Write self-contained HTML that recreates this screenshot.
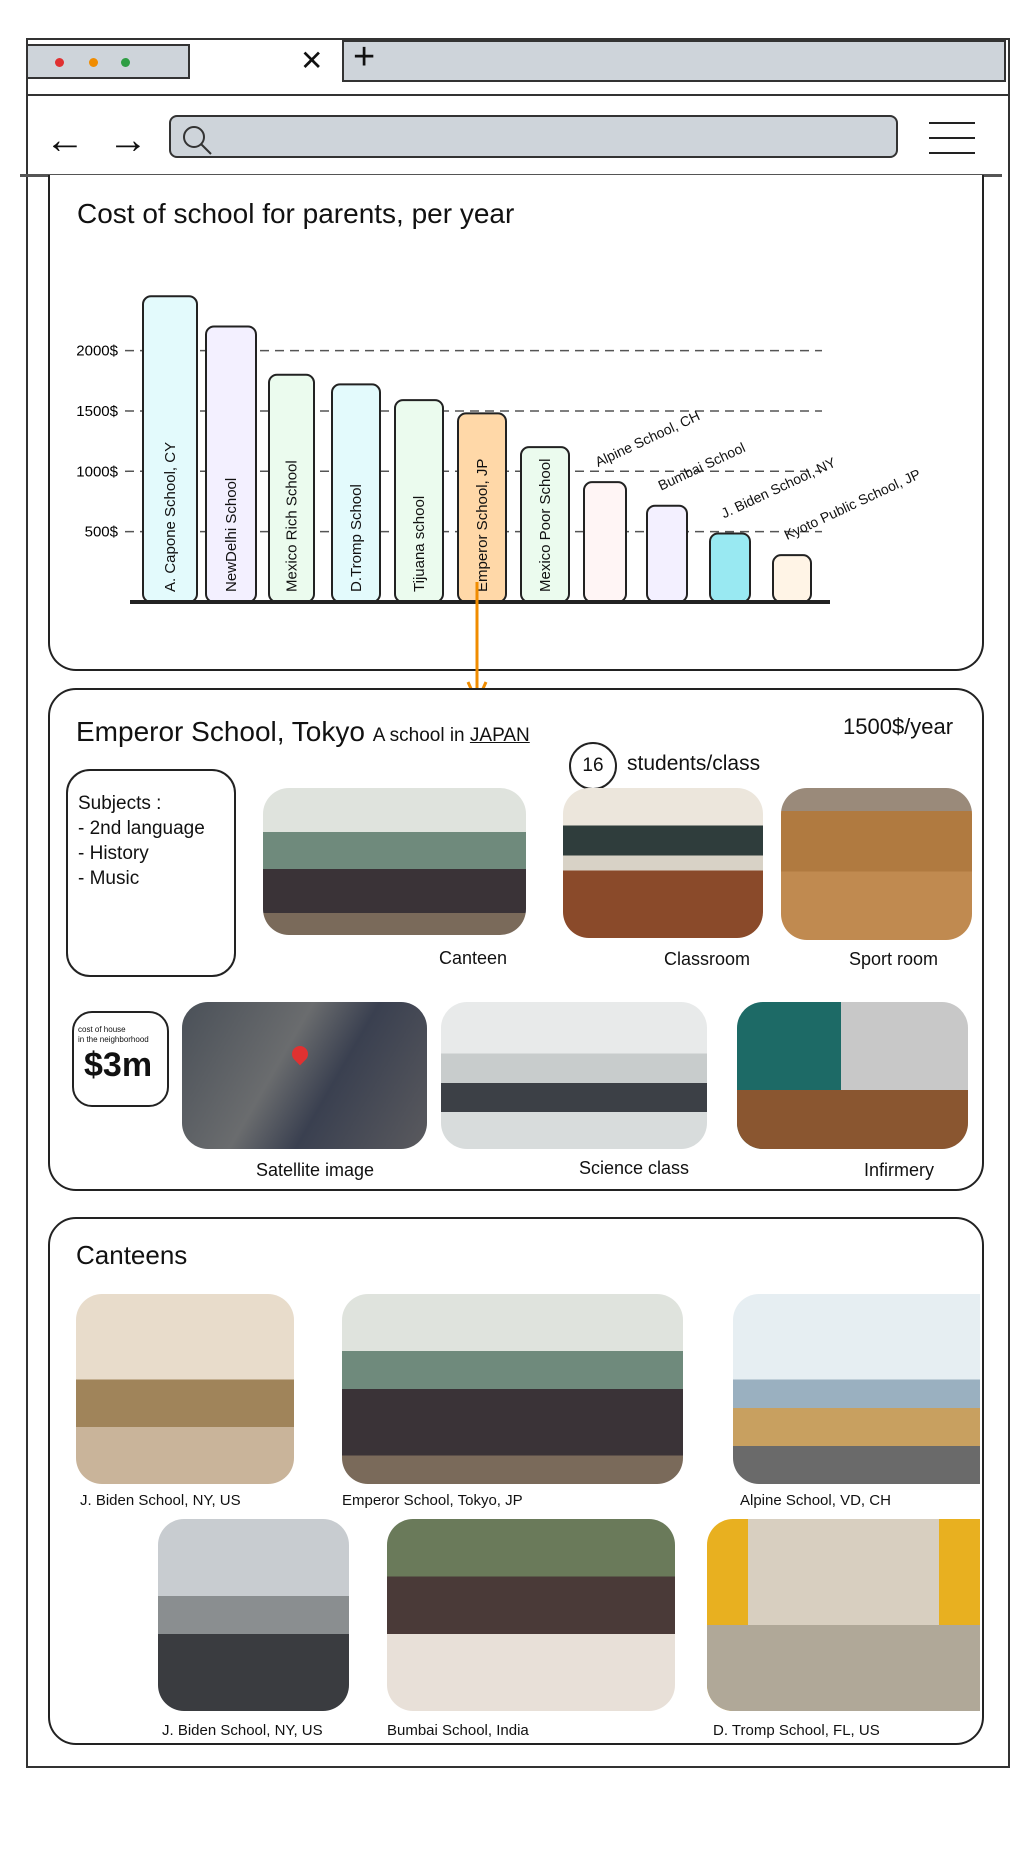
<!DOCTYPE html>
<html><head><meta charset="utf-8">
<style>
*{box-sizing:border-box;margin:0;padding:0}
body{width:1035px;height:1849px;background:#fff;position:relative;overflow:hidden;font-family:"Liberation Sans",sans-serif;color:#111}
.a{position:absolute}
.panel{position:absolute;border:2px solid #222;border-radius:28px;background:#fff}
.img{position:absolute;border-radius:26px;overflow:hidden}
.lbl{position:absolute;font-size:18px;white-space:nowrap}
.cl{position:absolute;font-size:15px;white-space:nowrap}
</style></head><body>
<div class="a" style="left:26px;top:38px;width:984px;height:1730px;border:2px solid #333"></div>
<div class="a" style="left:26px;top:38px;width:984px;height:58px;border-bottom:2px solid #333"></div>
<div class="a" style="left:26px;top:44px;width:164px;height:35px;background:#ced4da;border:2px solid #333"></div>
<div class="a" style="left:55px;top:58px;width:9px;height:9px;border-radius:50%;background:#e03131"></div>
<div class="a" style="left:89px;top:58px;width:9px;height:9px;border-radius:50%;background:#f08c00"></div>
<div class="a" style="left:121px;top:58px;width:9px;height:9px;border-radius:50%;background:#2f9e44"></div>
<div class="a" style="left:300px;top:44px;font-size:28px">✕</div>
<div class="a" style="left:342px;top:40px;width:664px;height:42px;background:#ced4da;border:2px solid #333"></div>
<div class="a" style="left:353px;top:36px;font-size:38px;font-weight:300">+</div>
<div class="a" style="left:45px;top:118px;font-size:40px">←</div>
<div class="a" style="left:108px;top:118px;font-size:40px">→</div>
<div class="a" style="left:169px;top:115px;width:729px;height:43px;background:#ced4da;border:2px solid #333;border-radius:8px"></div>
<svg class="a" style="left:180px;top:123px" width="34" height="34"><circle cx="14" cy="14" r="10" fill="none" stroke="#333" stroke-width="2"/><line x1="21" y1="21" x2="31" y2="31" stroke="#333" stroke-width="2"/></svg>
<svg class="a" style="left:929px;top:120px" width="46" height="36"><path d="M0 3H46M0 18H46M0 33H46" stroke="#222" stroke-width="2"/></svg>
<div class="a" style="left:20px;top:174px;width:982px;height:3px;background:#555"></div>

<div class="panel" style="left:48px;top:175px;width:936px;height:496px;border-top:none;border-radius:0 0 28px 28px"></div>
<div class="a" style="left:77px;top:198px;font-size:28px">Cost of school for parents, per year</div>
<svg class="a" id="chart" style="left:0;top:0" width="1035" height="720"></svg>

<div class="panel" style="left:48px;top:688px;width:936px;height:503px"></div>
<div class="a" style="left:76px;top:716px;font-size:28px">Emperor School, Tokyo <span style="font-size:19px">A school in <u>JAPAN</u></span></div>
<div class="a" style="left:843px;top:714px;font-size:22px">1500$/year</div>
<div class="a" style="left:569px;top:742px;width:48px;height:48px;border:2px solid #222;border-radius:50%;text-align:center;line-height:44px;font-size:19px">16</div>
<div class="a" style="left:627px;top:752px;font-size:21px">students/class</div>
<div class="a" style="left:66px;top:769px;width:170px;height:208px;border:2px solid #222;border-radius:24px;padding:20px 10px;font-size:19px;line-height:25px">Subjects :<br>- 2nd language<br>- History<br>- Music</div>
<div class="img" style="left:263px;top:788px;width:263px;height:147px;background:linear-gradient(#dfe3dd 0 30%,#6f8a7c 30% 55%,#3a3337 55% 85%,#7a6a5a 85%)"></div>
<div class="lbl" style="left:439px;top:948px">Canteen</div>
<div class="img" style="left:563px;top:788px;width:200px;height:150px;background:linear-gradient(#ece6dc 0 25%,#2f3d3c 25% 45%,#d8d2c6 45% 55%,#8a4a2a 55%)"></div>
<div class="lbl" style="left:664px;top:949px">Classroom</div>
<div class="img" style="left:781px;top:788px;width:191px;height:152px;background:linear-gradient(#9a8a7a 0 15%,#b07a40 15% 55%,#c08a50 55%)"></div>
<div class="lbl" style="left:849px;top:949px">Sport room</div>
<div class="a" style="left:72px;top:1011px;width:97px;height:96px;border:2px solid #222;border-radius:20px;padding:12px 4px;font-size:8px;line-height:10px">cost of house<br>in the neighborhood<div style="font-size:34px;line-height:40px;font-weight:bold;padding-left:6px">$3m</div></div>
<div class="img" style="left:182px;top:1002px;width:245px;height:147px;background:linear-gradient(120deg,#4a5058,#6a6c6e 40%,#3a4050 60%,#5a5a5e)"></div>
<div class="a" style="left:292px;top:1046px;width:16px;height:16px;border-radius:50% 50% 50% 0;transform:rotate(-45deg);background:#e03131"></div>
<div class="lbl" style="left:256px;top:1160px">Satellite image</div>
<div class="img" style="left:441px;top:1002px;width:266px;height:147px;background:linear-gradient(#e8eaea 0 35%,#c8cccc 35% 55%,#3c4046 55% 75%,#d8dcdc 75%)"></div>
<div class="lbl" style="left:579px;top:1158px">Science class</div>
<div class="img" style="left:737px;top:1002px;width:231px;height:147px;background:linear-gradient(90deg,#1d6a66 0 45%,#c8c8c8 45%),#1d6a66"><div style="position:absolute;left:0;top:60%;width:100%;height:40%;background:#8a5630"></div></div>
<div class="lbl" style="left:864px;top:1160px">Infirmery</div>

<div class="panel" style="left:48px;top:1217px;width:936px;height:528px"></div>
<div class="a" style="left:76px;top:1240px;font-size:26px">Canteens</div>
<div class="img" style="left:76px;top:1294px;width:218px;height:190px;background:linear-gradient(#e8dccb 0 45%,#a0845a 45% 70%,#c9b49a 70%)"></div>
<div class="cl" style="left:80px;top:1492px">J. Biden School, NY, US</div>
<div class="img" style="left:342px;top:1294px;width:341px;height:190px;background:linear-gradient(#dfe3dd 0 30%,#6f8a7c 30% 50%,#3a3337 50% 85%,#7a6a5a 85%)"></div>
<div class="cl" style="left:342px;top:1492px">Emperor School, Tokyo, JP</div>
<div class="img" style="left:733px;top:1294px;width:247px;height:190px;border-radius:26px 0 0 26px;background:linear-gradient(#e6eef2 0 45%,#9ab0c0 45% 60%,#c8a060 60% 80%,#6a6a6a 80%)"></div>
<div class="cl" style="left:740px;top:1492px">Alpine School, VD, CH</div>
<div class="img" style="left:158px;top:1519px;width:191px;height:192px;background:linear-gradient(#c8ccd0 0 40%,#8a8e90 40% 60%,#3a3c40 60%)"></div>
<div class="cl" style="left:162px;top:1722px">J. Biden School, NY, US</div>
<div class="img" style="left:387px;top:1519px;width:288px;height:192px;background:linear-gradient(#6a7a5a 0 30%,#4a3a38 30% 60%,#e8e0d8 60%)"></div>
<div class="cl" style="left:387px;top:1722px">Bumbai School, India</div>
<div class="img" style="left:707px;top:1519px;width:273px;height:192px;border-radius:26px 0 0 26px;background:linear-gradient(90deg,#e8b020 0 15%,#d8cfc0 15% 85%,#e8b020 85%)"><div style="position:absolute;left:0;top:55%;width:100%;height:45%;background:#b0a898"></div></div>
<div class="cl" style="left:713px;top:1722px">D. Tromp School, FL, US</div>

<script>
const categories=["A. Capone School, CY","NewDelhi School","Mexico Rich School","D.Tromp School","Tijuana school","Emperor School, JP","Mexico Poor School","Alpine School, CH","Bumbai School","J. Biden School, NY","Kyoto Public School, JP"];
const costs=[2450,2200,1800,1720,1590,1480,1200,910,715,485,305];
const tickValues=[500,1000,1500,2000];
const tickLabels=["500$","1000$","1500$","2000$"];
const colors=["#e3fafc","#f3f0ff","#ebfbee","#e3fafc","#ebfbee","#ffd8a8","#ebfbee","#fff5f5","#f3f0ff","#99e9f2","#fff4e6"];
const ns="http://www.w3.org/2000/svg";
const svg=document.getElementById('chart');
const base=602, zero=592, k=0.1207;
const y=v=>zero-v*k;
const x0=143, bw=[54,50,45,48,48,48,48,42,40,40,38];
const x=i=>x0+i*((773-x0)/(categories.length-1));
function mk(t,a){const e=document.createElementNS(ns,t);for(const n in a)e.setAttribute(n,a[n]);svg.appendChild(e);return e;}
tickValues.forEach((v,i)=>{
  const l=mk('line',{x1:125,x2:822,y1:y(v),y2:y(v),stroke:'#555','stroke-width':1.5,'stroke-dasharray':'9 6'});
  
  
  const t=mk('text',{x:118,y:y(v)+5,'text-anchor':'end','font-size':15,'font-family':'Liberation Sans'});
  t.textContent=tickLabels[i];
  
  
});
categories.forEach((c,i)=>{
  const w=bw[i], bx=x(i);
  const r=mk('rect',{x:bx,y:y(costs[i]),width:w,height:base-y(costs[i]),rx:8,fill:colors[i],stroke:'#222','stroke-width':2});
  
  
  const t=mk('text',{'font-size':i<7?15:14,'font-family':'Liberation Sans',fill:'#111'});
  if(i<7){t.setAttribute('transform',`translate(${bx+w/2+5},${base-10}) rotate(-90)`);}
  else{t.setAttribute('transform',`translate(${bx+14},${y(costs[i])-15}) rotate(-25)`);}
  t.textContent=c;
  
  
});
const ax=mk('line',{x1:130,x2:830,y1:base,y2:base,stroke:'#222','stroke-width':4});


const ar=mk('path',{d:'M477 582 V700 M468 682 L477 702 L486 682',stroke:'#f08c00','stroke-width':3,fill:'none'});


</script>
</body></html>
